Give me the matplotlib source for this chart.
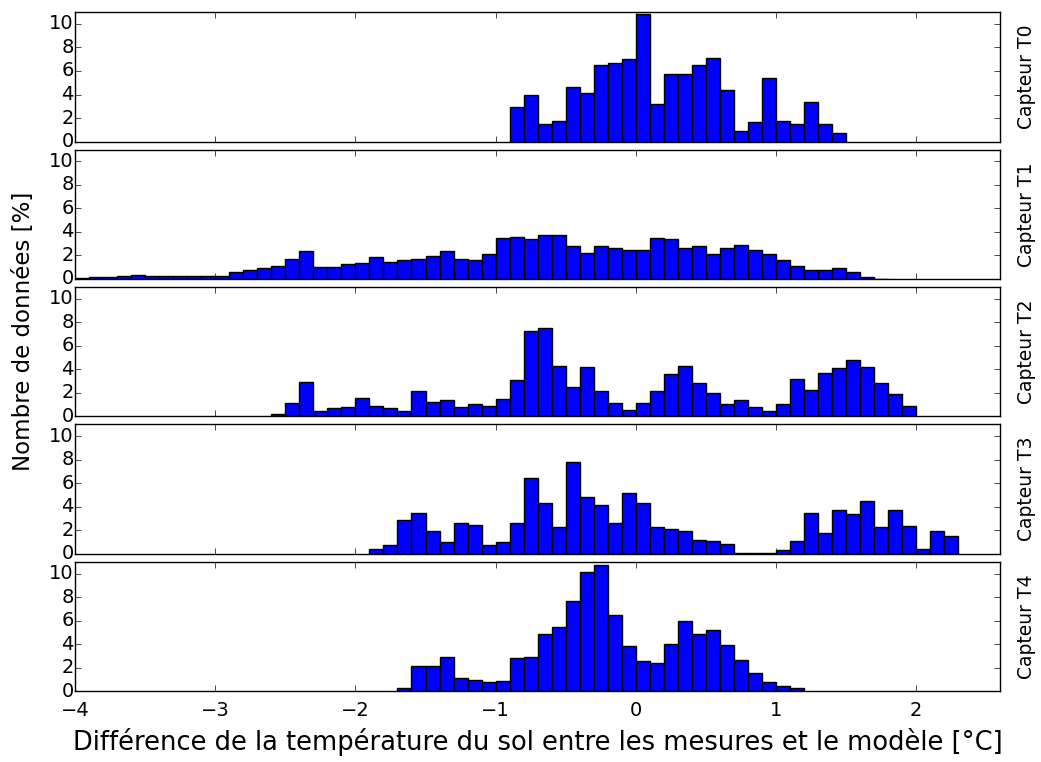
import numpy as np
import matplotlib
matplotlib.use("Agg")
import matplotlib.pyplot as plt

#-----------------------------------------------------------------------------------------
# Histogrammes (pas de 0.1 °C, hauteurs en %)
largeur = 0.1

capteurs = ["Capteur T0", "Capteur T1", "Capteur T2", "Capteur T3", "Capteur T4"]

debut_T0 = -0.9
h_T0 = [2.93, 3.94, 1.47, 1.78, 4.66, 4.17, 6.55, 6.67, 7.01, 10.83,
        3.16, 5.75, 5.75, 6.55, 7.13, 4.40, 0.86, 1.67, 5.43, 1.78,
        1.47, 3.36, 1.47, 0.75]

debut_T1 = -4.0
h_T1 = [0.06, 0.15, 0.15, 0.25, 0.35, 0.22, 0.22, 0.22, 0.22, 0.22,
        0.22, 0.55, 0.78, 0.89, 1.09, 1.70, 2.36, 1.00, 1.00, 1.24,
        1.32, 1.90, 1.44, 1.61, 1.70, 1.93, 2.36, 1.70, 1.58, 2.10,
        3.48, 3.59, 3.36, 3.71, 3.71, 2.79, 2.21, 2.79, 2.59, 2.44,
        2.44, 3.48, 3.36, 2.67, 2.79, 2.10, 2.59, 2.90, 2.44, 2.10,
        1.58, 1.09, 0.72, 0.72, 0.89, 0.63, 0.14, 0.03]

debut_T2 = -2.6
h_T2 = [0.23, 1.12, 2.96, 0.43, 0.69, 0.80, 1.58, 0.89, 0.69, 0.43,
        2.16, 1.21, 1.35, 0.78, 1.01, 0.89, 1.49, 3.07, 7.27, 7.50,
        4.31, 2.50, 4.20, 2.16, 1.12, 0.55, 1.12, 2.16, 3.59, 4.31,
        2.82, 2.01, 1.01, 1.35, 0.78, 0.43, 1.01, 3.16, 2.27, 3.71,
        4.08, 4.77, 4.20, 2.82, 1.90, 0.89]

debut_T3 = -1.9
h_T3 = [0.40, 0.78, 2.90, 3.48, 1.90, 0.98, 2.59, 2.47, 0.78, 0.98,
        2.59, 6.44, 4.28, 2.27, 7.84, 4.83, 4.17, 2.59, 5.17, 4.28,
        2.24, 2.10, 1.95, 1.18, 1.09, 0.86, 0.09, 0.09, 0.09, 0.29,
        1.09, 3.48, 1.78, 3.68, 3.36, 4.48, 2.24, 3.68, 2.36, 0.43,
        1.95, 1.55]

debut_T4 = -1.7
h_T4 = [0.29, 2.10, 2.10, 2.90, 1.09, 0.98, 0.78, 0.86, 2.79, 2.90,
        4.83, 5.43, 7.67, 10.09, 10.75, 6.44, 3.82, 2.56, 2.36, 4.05,
        5.95, 4.83, 5.17, 3.94, 2.67, 1.55, 0.75, 0.43, 0.29]

debuts = [debut_T0, debut_T1, debut_T2, debut_T3, debut_T4]
hauteurs = [h_T0, h_T1, h_T2, h_T3, h_T4]

#-----------------------------------------------------------------------------------------
plt.style.use("classic")
plt.rcParams["font.family"] = ["DejaVu Sans"]

fig, axes = plt.subplots(5, 1, sharex=True, figsize=(10.41, 7.62), dpi=100, facecolor="white")
fig.subplots_adjust(left=0.072, right=0.961, top=0.984, bottom=0.093, hspace=0.062)

for ax, nom, debut, h in zip(axes, capteurs, debuts, hauteurs):
    gauche = debut + largeur * np.arange(len(h))
    ax.bar(gauche, h, width=largeur, align="edge", color="b", edgecolor="k", linewidth=1.0)
    ax.set_ylim(0, 11)
    ax.set_yticks([0, 2, 4, 6, 8, 10])
    ax.tick_params(axis="y", labelsize=14, pad=1)
    ax.tick_params(axis="x", labelsize=14, pad=7)
    ax.text(1.018, 0.5, nom, transform=ax.transAxes, rotation=90,
            va="center", ha="left", fontsize=13.5)

axes[-1].set_xlim(-4, 2.6)
axes[-1].set_xticks([-4, -3, -2, -1, 0, 1, 2])
axes[-1].set_xlabel("Différence de la température du sol entre les mesures et le modèle [°C]",
                    fontsize=18.5, labelpad=6)
fig.text(0.012, 0.565, "Nombre de données [%]", rotation=90, va="center", ha="left", fontsize=16.5)

fig.savefig("out.png", dpi=100, facecolor="white")
